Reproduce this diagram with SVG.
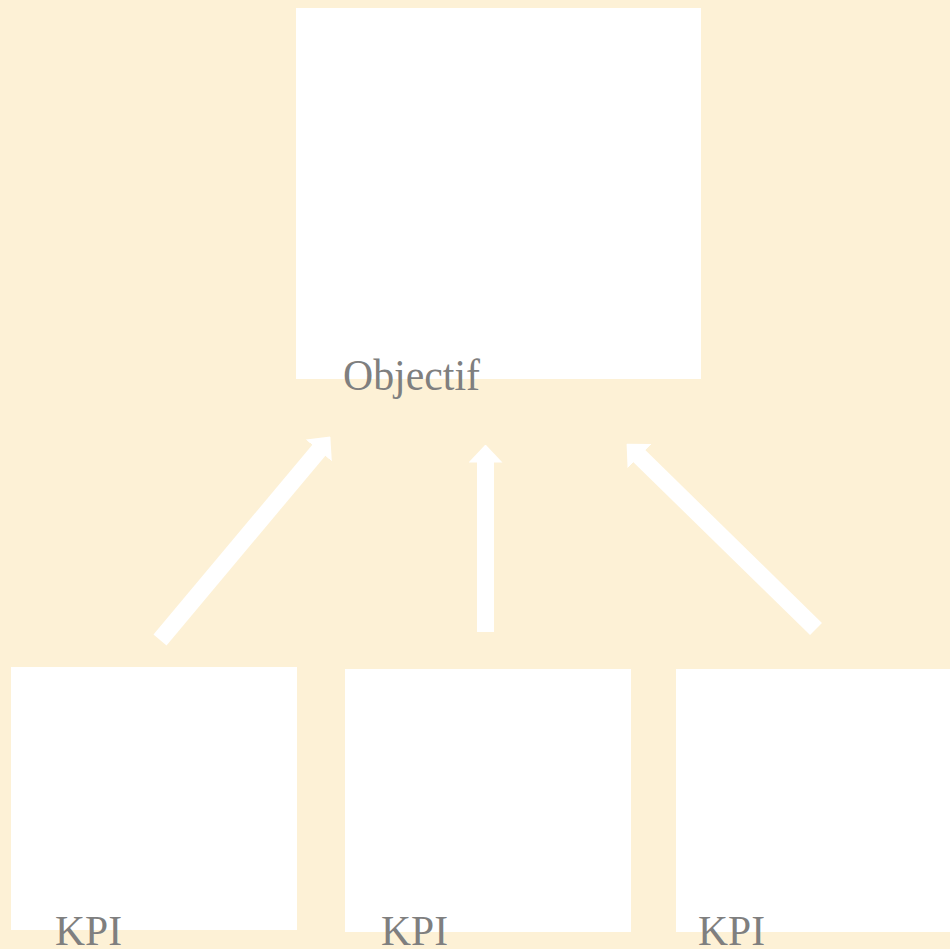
<svg xmlns="http://www.w3.org/2000/svg" width="950" height="949" viewBox="0 0 950 949">
<style>
.box{fill:#ffffff;}
.lbl{font-family:"Liberation Serif","Times New Roman",serif;fill:#7f7f7f;}
.arr{stroke:#ffffff;stroke-width:17;fill:none;}
</style>
<defs>
<marker id="ah" markerUnits="userSpaceOnUse" markerWidth="18" markerHeight="34" viewBox="0 0 18 34" refX="0.5" refY="17" orient="auto">
<path d="M0,0 L18,17 L0,34 z" fill="#ffffff"/>
</marker>
</defs>
<rect x="0" y="0" width="950" height="949" fill="#fdf1d6"/>
<g id="objectif">
<rect class="box" x="296" y="8" width="405" height="371"/>
<text class="lbl" x="343" y="390" font-size="44" textLength="137" lengthAdjust="spacingAndGlyphs">Objectif</text>
</g>
<g id="kpi1">
<rect class="box" x="11" y="667" width="286" height="263"/>
<text class="lbl" x="55" y="945" font-size="42" textLength="67" lengthAdjust="spacingAndGlyphs">KPI</text>
</g>
<g id="kpi2">
<rect class="box" x="345" y="669" width="286" height="263"/>
<text class="lbl" x="381" y="945" font-size="42" textLength="67" lengthAdjust="spacingAndGlyphs">KPI</text>
</g>
<g id="kpi3">
<rect class="box" x="676" y="669" width="274" height="263"/>
<text class="lbl" x="698" y="945" font-size="42" textLength="67" lengthAdjust="spacingAndGlyphs">KPI</text>
</g>
<g id="connectors">
<line class="arr" x1="160" y1="640" x2="319.1" y2="450" marker-end="url(#ah)"/>
<line class="arr" x1="485.5" y1="632" x2="485.5" y2="462" marker-end="url(#ah)"/>
<line class="arr" x1="816" y1="629" x2="639.1" y2="455.9" marker-end="url(#ah)"/>
</g>
</svg>
